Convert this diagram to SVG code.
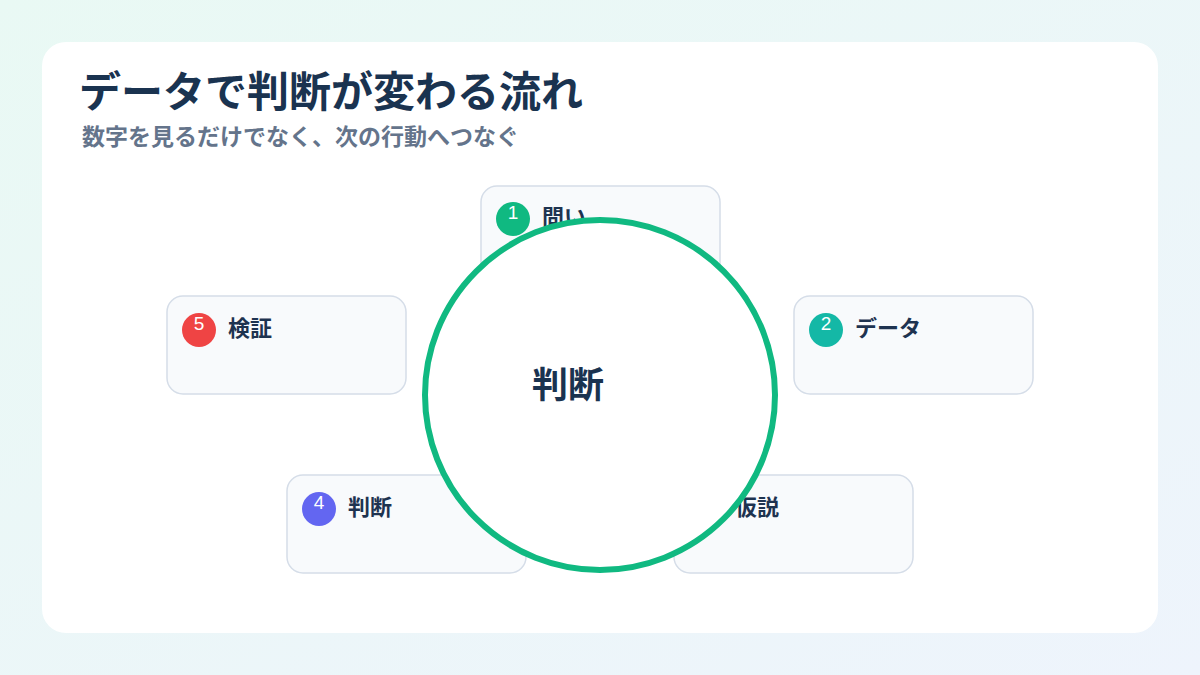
<svg xmlns="http://www.w3.org/2000/svg" width="1200" height="675" viewBox="0 0 1200 675">
<defs>
<linearGradient id="bg" x1="0" y1="0" x2="1" y2="1">
<stop offset="0" stop-color="#e9f9f4"/>
<stop offset="1" stop-color="#eef4fc"/>
</linearGradient>
<style>
.jp{font-family:"Noto Sans CJK JP","Noto Sans",sans-serif;}
.box{fill:#f8fafc;stroke:#d5dde8;stroke-width:1.5;}
.lbl{font-size:22px;font-weight:700;fill:#1e3350;}
.num{font-family:"Liberation Sans","Noto Sans",sans-serif;font-size:19px;fill:#ffffff;text-anchor:middle;}
</style>
</defs>
<rect width="1200" height="675" fill="url(#bg)"/>
<rect x="42" y="42" width="1116" height="591" rx="24" fill="#ffffff"/>
<text class="jp" x="79" y="107" font-size="42" font-weight="700" fill="#1a3350">データで判断が変わる流れ</text>
<text class="jp" x="82" y="145" font-size="23" font-weight="600" fill="#64748b">数字を見るだけでなく、次の行動へつなぐ</text>
<g id="node1">
<rect class="box" x="481" y="186" width="239" height="98" rx="16"/>
<circle cx="513" cy="219" r="17" fill="#10b981"/>
<text class="num" x="513" y="219">1</text>
<text class="jp lbl" x="542" y="225">問い</text>
</g>
<g id="node2">
<rect class="box" x="794" y="296" width="239" height="98" rx="16"/>
<circle cx="826" cy="330" r="17" fill="#14b8a6"/>
<text class="num" x="826" y="330">2</text>
<text class="jp lbl" x="855" y="336">データ</text>
</g>
<g id="node3">
<rect class="box" x="674" y="475" width="239" height="98" rx="16"/>
<circle cx="706" cy="509" r="17" fill="#f59e0b"/>
<text class="num" x="706" y="509">3</text>
<text class="jp lbl" x="735" y="515">仮説</text>
</g>
<g id="node4">
<rect class="box" x="287" y="475" width="239" height="98" rx="16"/>
<circle cx="319" cy="509" r="17" fill="#6366f1"/>
<text class="num" x="319" y="509">4</text>
<text class="jp lbl" x="348" y="515">判断</text>
</g>
<g id="node5">
<rect class="box" x="167" y="296" width="239" height="98" rx="16"/>
<circle cx="199" cy="330" r="17" fill="#ef4444"/>
<text class="num" x="199" y="330">5</text>
<text class="jp lbl" x="228" y="336">検証</text>
</g>
<g id="connectors"></g>
<g id="center">
<circle cx="600" cy="395" r="175" fill="#ffffff" stroke="#10b981" stroke-width="6"/>
<text class="jp" x="568" y="398" font-size="36" font-weight="700" fill="#1a3350" text-anchor="middle">判断</text>
</g>
</svg>
